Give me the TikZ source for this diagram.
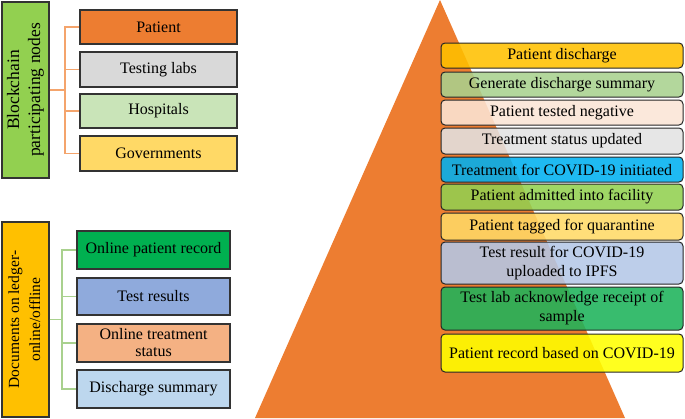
\documentclass[tikz,border=0pt]{standalone}
\usepackage{fontspec}
\usepackage{graphicx}
\setmainfont{Liberation Serif}
\definecolor{triorange}{HTML}{ED7D31}
\definecolor{cPatient}{HTML}{ED7D31}
\definecolor{cLabs}{HTML}{D9D9D9}
\definecolor{cHosp}{HTML}{C9E4B8}
\definecolor{cGov}{HTML}{FFD966}
\definecolor{cBlock}{HTML}{92D050}
\definecolor{cDocs}{HTML}{FFC000}
\definecolor{cOnline}{HTML}{00B050}
\definecolor{cTest}{HTML}{8FAADC}
\definecolor{cTreat}{HTML}{F4B183}
\definecolor{cDisch}{HTML}{BDD7EE}
\definecolor{r1}{HTML}{FFC000}
\definecolor{r2}{HTML}{A9D18E}
\definecolor{r3}{HTML}{FBE5D6}
\definecolor{r4}{HTML}{E2E2E2}
\definecolor{r5}{HTML}{00B0F0}
\definecolor{r6}{HTML}{92D050}
\definecolor{r7}{HTML}{FFD966}
\definecolor{r8}{HTML}{B4C7E7}
\definecolor{r9}{HTML}{1DB35A}
\definecolor{r10}{HTML}{FFFF00}
\definecolor{lineorange}{HTML}{F4A46C}
\definecolor{linegreen}{HTML}{A9D18E}
\tikzset{
  lbox/.style={draw=black!80, line width=1.3pt, font=\fontsize{16}{17}\selectfont, align=center, inner sep=1pt},
  vbox/.style={draw=black!80, line width=1.3pt, inner sep=1pt, minimum width=47pt},
  rbox/.style={draw=black!85, line width=1pt, rounded corners=4pt, fill opacity=0.88, text opacity=1,
    font=\fontsize{16}{19}\selectfont, align=center, minimum width=242pt, inner sep=1pt},
  conO/.style={draw=lineorange, line width=1.4pt},
  conG/.style={draw=linegreen, line width=1.4pt}
}
\begin{document}
\begin{tikzpicture}[x=1pt,y=-1pt]
\useasboundingbox (0,0) rectangle (685,418);
% pyramid
\fill[triorange] (440,0) -- (625,418) -- (255,418) -- cycle;

% Blockchain group
\node[vbox, fill=cBlock, minimum height=176pt, font=\fontsize{17.5}{21}\selectfont] (bc) at (25.5,90)
  {\rotatebox{90}{\begin{tabular}{@{}c@{}}Blockchain\\participating nodes\end{tabular}}};
\node[lbox, fill=cPatient, minimum width=157pt, minimum height=34pt] (pat) at (158.5,27) {Patient};
\node[lbox, fill=cLabs, minimum width=157pt, minimum height=35pt] (lab) at (158.5,69.5) {Testing labs};
\node[lbox, fill=cHosp, minimum width=157pt, minimum height=34pt] (hos) at (158.5,111) {Hospitals};
\node[lbox, fill=cGov, minimum width=157pt, minimum height=35pt] (gov) at (158.5,153.5) {Governments};
\coordinate (j1) at (65,90);
\draw[conO] (bc.east) -- (j1);
\draw[conO] (j1) |- (pat.west);
\draw[conO] (j1) |- (lab.west);
\draw[conO] (j1) |- (hos.west);
\draw[conO] (j1) |- (gov.west);

% Documents group
\node[vbox, fill=cDocs, minimum height=195pt, font=\fontsize{15.5}{21}\selectfont] (doc) at (25.5,319.5)
  {\rotatebox{90}{\begin{tabular}{@{}c@{}}Documents on ledger-\\online/offline\end{tabular}}};
\node[lbox, fill=cOnline, minimum width=153pt, minimum height=38pt] (onl) at (153.5,250) {Online patient record};
\node[lbox, fill=cTest, minimum width=153pt, minimum height=37pt] (tst) at (153.5,296.5) {Test results};
\node[lbox, fill=cTreat, minimum width=153pt, minimum height=38pt] (trt) at (153.5,343) {Online treatment\\status};
\node[lbox, fill=cDisch, minimum width=153pt, minimum height=38pt] (dis) at (153.5,389) {Discharge summary};
\coordinate (j2) at (62,319.5);
\draw[conG] (doc.east) -- (j2);
\draw[conG] (j2) |- (onl.west);
\draw[conG] (j2) |- (tst.west);
\draw[conG] (j2) |- (trt.west);
\draw[conG] (j2) |- (dis.west);

% Right column
\node[rbox, fill=r1, minimum height=25pt] (s1) at (562,55.5) {Patient discharge};
\node[rbox, fill=r2, minimum height=25pt] (s2) at (562,84.5) {Generate discharge summary};
\node[rbox, fill=r3, minimum height=25pt] (s3) at (562,112.5) {Patient tested negative};
\node[rbox, fill=r4, minimum height=26pt] (s4) at (562,141) {Treatment status updated};
\node[rbox, fill=r5, minimum height=25pt] (s5) at (562,169.5) {Treatment for COVID-19 initiated};
\node[rbox, fill=r6, minimum height=26pt] (s6) at (562,197) {Patient admitted into facility};
\node[rbox, fill=r7, minimum height=27pt] (s7) at (562,226.5) {Patient tagged for quarantine};
\node[rbox, fill=r8, minimum height=42pt] (s8) at (562,263) {Test result for COVID-19\\uploaded to IPFS};
\node[rbox, fill=r9, minimum height=43pt] (s9) at (562,308.5) {Test lab acknowledge receipt of\\sample};
\node[rbox, fill=r10, minimum height=38pt] (s10) at (562,353) {Patient record based on COVID-19};
\end{tikzpicture}
\end{document}
